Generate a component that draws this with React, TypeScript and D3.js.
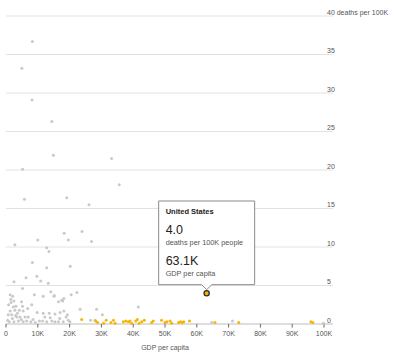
import React from "react";
import * as d3 from "d3";

const yTicks = [0, 5, 10, 15, 20, 25, 30, 35, 40];
const xTicks = [0, 10, 20, 30, 40, 50, 60, 70, 80, 90, 100];

// GDP per capita (thousands USD), deaths per 100K
const grayX = [
  8.3, 5.0, 8.2, 14.4, 14.9, 33.2, 5.2, 35.6, 5.8, 19.1, 26.1,
  18.3, 23.9, 2.8, 10.0, 19.6, 26.9, 12.8, 13.5, 8.3, 12.8, 20.2, 6.3, 9.7, 10.9, 2.5, 13.3, 5.2,
  14.1, 22.3, 20.5, 15.2, 17.5, 18.2, 28.5, 41.6, 23.3,
  1.3, 2.1, 8.9, 11.7, 15.1, 17.8, 2.5, 4.9, 8.1, 2.3, 3.1, 5.2, 1.3, 2.8, 4.2, 5.4, 9.8, 11.7, 13.6, 15.4, 17.0, 18.9,
  0.7, 1.8, 3.4, 4.4, 6.0, 7.0, 1.0, 2.5, 3.9, 5.4, 7.8, 10.5, 11.5, 12.8, 14.4, 15.4, 16.5, 18.0, 19.6,
  16.5, 18.2, 19.3, 30.3, 26.6, 28.0, 20.1, 64.7, 71.2, 99.8,
  0.8, 1.6, 3.6, 6.5, 8.5, 9.2, 2.0, 4.8, 0.5, 3.0, 6.8, 12.2, 13.9, 16.9, 1.5,
];
const grayY = [
  36.7, 33.2, 29.1, 26.3, 21.9, 21.5, 20.1, 18.1, 16.2, 16.4, 15.5,
  11.8, 12.0, 10.3, 10.9, 10.9, 10.7, 9.9, 9.4, 8.0, 7.3, 7.5, 6.0, 6.2, 5.6, 5.5, 5.3, 4.6,
  4.2, 4.1, 3.8, 3.7, 3.1, 3.3, 1.9, 2.2, 1.9,
  3.8, 3.6, 3.8, 3.6, 3.6, 3.0, 3.0, 2.9, 2.5, 2.2, 2.3, 2.3, 1.7, 1.8, 1.8, 1.7, 1.5, 1.4, 1.4, 1.3, 1.5, 0.9,
  1.2, 1.2, 0.9, 0.9, 0.9, 0.9, 0.3, 0.3, 0.4, 0.3, 0.3, 0.4, 0.4, 0.3, 0.4, 0.3, 0.3, 0.3, 0.5,
  2.9, 1.7, 1.2, 1.2, 0.5, 0.5, 0.3, 0.2, 0.4, 0.1,
  2.5, 2.8, 1.4, 0.4, 0.6, 0.2, 0.7, 0.6, 0.5, 1.1, 2.0, 0.9, 0.8, 0.7, 3.2,
];

const yellowX = [
  23.8, 28.2, 28.8, 30.7, 31.5, 33.0, 33.8, 34.3, 36.9, 37.7, 38.5, 39.0, 39.5, 40.8, 41.3, 41.9,
  42.7, 43.5, 45.8, 46.3, 48.9, 50.0, 50.6, 51.6, 52.1, 54.3, 54.9, 55.4, 55.9, 57.7, 65.7, 73.2, 95.9, 96.5,
];
const yellowY = [
  0.6, 0.4, 0.2, 0.1, 0.5, 0.2, 0.5, 0.1, 0.3, 0.4, 0.3, 0.4, 0.1, 0.4, 0.6, 0.1,
  0.3, 0.5, 0.2, 0.4, 0.5, 0.2, 0.3, 0.4, 0.1, 0.2, 0.3, 0.2, 0.3, 0.4, 0.2, 0.2, 0.3, 0.2,
];

const highlightName = "United States";
const highlightX = 63.1;
const highlightY = 4.0;

const FONT = "'Liberation Sans', Arial, Helvetica, sans-serif";

export default function App() {
  const W = 394;
  const H = 354;
  const x = d3.scaleLinear().domain([0, 100]).range([6, 324]);
  const y = d3.scaleLinear().domain([0, 40]).range([324, 16]);

  const px = x(highlightX);
  const py = y(highlightY);
  const boxW = 96;
  const boxBottom = py - 8.5;
  const boxTop = 201;
  const boxL = px - boxW / 2;
  const tipPath = `M${boxL},${boxTop} H${boxL + boxW} V${boxBottom} H${px + 5} L${px},${boxBottom + 5} L${px - 5},${boxBottom} H${boxL} Z`;

  return (
    <svg
      width={W}
      height={H}
      style={{ position: "absolute", left: 0, top: 0, background: "#fff" }}
      fontFamily={FONT}
    >
      {yTicks.map((t) => (
        <g key={"g" + t}>
          <line x1={6} x2={333} y1={y(t)} y2={y(t)} stroke={t === 0 ? "#bdbdbd" : "#e2e2e2"} strokeWidth={1} />
          <text x={327} y={y(t) - 1.5} fontSize={7} fill="#555">
            {t === 40 ? "40 deaths per 100K" : String(t)}
          </text>
        </g>
      ))}
      {xTicks.map((t) => (
        <g key={"x" + t}>
          <line x1={x(t)} x2={x(t)} y1={y(0)} y2={y(0) + 3.5} stroke="#666" strokeWidth={1} />
          <text x={x(t)} y={336} fontSize={7} fill="#555" textAnchor="middle">
            {t === 0 ? "0" : `${t}K`}
          </text>
        </g>
      ))}
      <text x={165} y={349.5} fontSize={7} fill="#555" textAnchor="middle">
        GDP per capita
      </text>

      {grayX.map((v, i) => (
        <circle key={"gr" + i} cx={x(v)} cy={y(grayY[i])} r={1.5} fill="#c9c9c9" />
      ))}
      {yellowX.map((v, i) => (
        <circle key={"ye" + i} cx={x(v)} cy={y(yellowY[i])} r={1.5} fill="#f7b500" />
      ))}

      <circle cx={px} cy={py} r={2.6} fill="#f7b500" stroke="#2b2b2b" strokeWidth={1.3} />

      <path d={tipPath} fill="#fff" stroke="#8a8a8a" strokeWidth={1} />
      <text x={boxL + 7} y={214} fontSize={7.5} fontWeight="bold" fill="#222">
        {highlightName}
      </text>
      <text x={boxL + 7} y={234} fontSize={12.5} fill="#222">
        {highlightY.toFixed(1)}
      </text>
      <text x={boxL + 7} y={245} fontSize={7.3} fill="#555">
        deaths per 100K people
      </text>
      <text x={boxL + 7} y={265} fontSize={12.5} fill="#222">
        {`${highlightX.toFixed(1)}K`}
      </text>
      <text x={boxL + 7} y={275.5} fontSize={7.3} fill="#555">
        GDP per capita
      </text>
    </svg>
  );
}
